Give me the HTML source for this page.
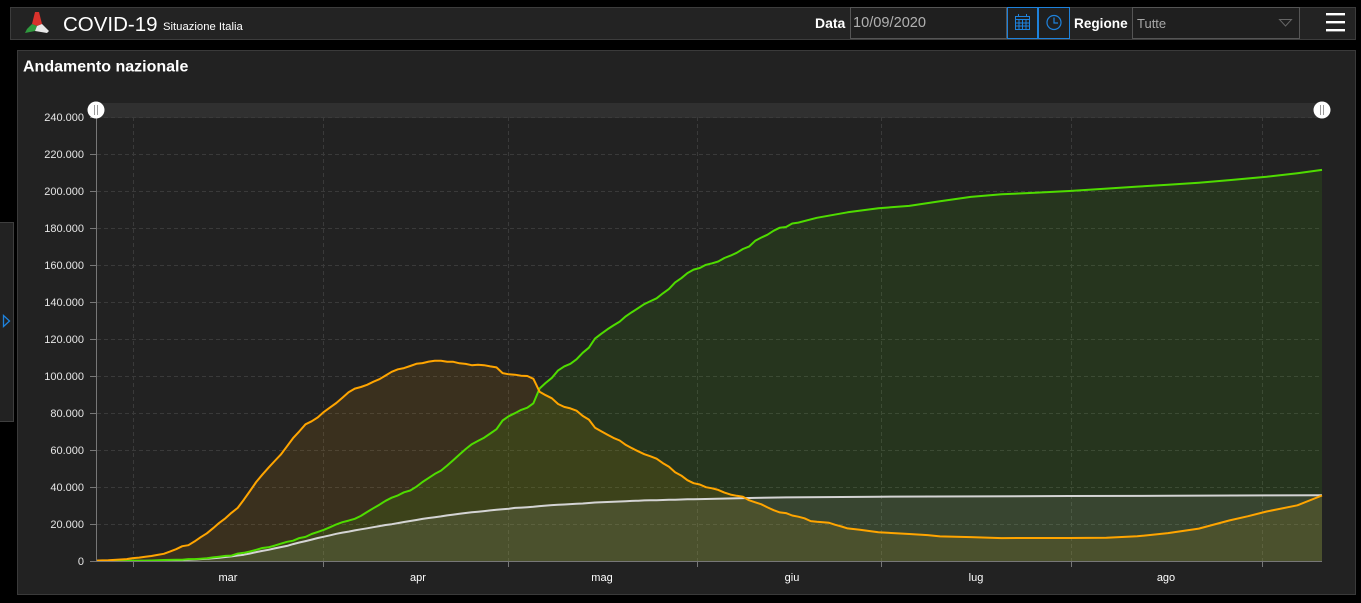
<!DOCTYPE html>
<html>
<head>
<meta charset="utf-8">
<style>
html,body{margin:0;padding:0;background:#000;width:1361px;height:603px;overflow:hidden;font-family:"Liberation Sans",sans-serif;}
.abs{position:absolute;}
#hdr{left:10px;top:7px;width:1344px;height:31px;background:#232323;border:1px solid #3c3c3c;}
#panel{left:17px;top:50px;width:1337px;height:543px;background:#222;border:1px solid #3a3a3a;}
#tab{left:-1px;top:222px;width:13px;height:198px;background:#222;border:1px solid #3e3e3e;}
</style>
</head>
<body>
<div id="hdr" class="abs"></div>
<div id="panel" class="abs"></div>
<div id="tab" class="abs"></div>

<!-- header content -->
<svg class="abs" style="left:0;top:0" width="1361" height="45">
  <!-- logo -->
  <g transform="translate(37,23)">
    <path d="M-2,-11 L2,-11 L5,1 L0,3 L-5,1 Z" fill="#d9322c"/>
    <path d="M-5,1 L0,3 L-2,8 L-12,10 L-10,6 Z" fill="#2f9a3e"/>
    <path d="M5,1 L0,3 L-2,8 L10,10 L12,8 Z" fill="#e8e8e8"/>
  </g>
  <text x="63" y="31" font-size="20.5" fill="#fff" font-family="Liberation Sans, sans-serif">COVID-19</text>
  <text x="163" y="30" font-size="11.3" fill="#fff" font-family="Liberation Sans, sans-serif">Situazione Italia</text>

  <text x="815" y="28" font-size="14" font-weight="bold" fill="#fff" font-family="Liberation Sans, sans-serif">Data</text>
  <rect x="850.5" y="7.5" width="156" height="31" fill="#1f1f1f" stroke="#555"/>
  <text x="853" y="27" font-size="14.6" fill="#b0b0b0" font-family="Liberation Sans, sans-serif">10/09/2020</text>

  <rect x="1007.5" y="7.5" width="30" height="31" fill="#1f1f1f" stroke="#1e82dc"/>
  <g stroke="#1e82dc" fill="none" stroke-width="1">
    <rect x="1015.5" y="16.5" width="14" height="13"/>
    <line x1="1015.5" y1="19.5" x2="1029.5" y2="19.5"/>
    <line x1="1015.5" y1="23" x2="1029.5" y2="23"/>
    <line x1="1015.5" y1="26" x2="1029.5" y2="26"/>
    <line x1="1019" y1="19.5" x2="1019" y2="29.5"/>
    <line x1="1022.5" y1="19.5" x2="1022.5" y2="29.5"/>
    <line x1="1026" y1="19.5" x2="1026" y2="29.5"/>
    <line x1="1018.5" y1="14" x2="1018.5" y2="17"/>
    <line x1="1026.5" y1="14" x2="1026.5" y2="17"/>
  </g>
  <rect x="1038.5" y="7.5" width="31" height="31" fill="#1f1f1f" stroke="#1e82dc"/>
  <g stroke="#1e82dc" fill="none" stroke-width="1.2">
    <circle cx="1054" cy="22.5" r="7"/>
    <polyline points="1054,17.5 1054,23 1058,23"/>
  </g>

  <text x="1074" y="28" font-size="13.6" font-weight="bold" fill="#fff" font-family="Liberation Sans, sans-serif">Regione</text>
  <rect x="1132.5" y="7.5" width="167" height="31" fill="#1f1f1f" stroke="#555"/>
  <text x="1137" y="28" font-size="13" fill="#a8a8a8" font-family="Liberation Sans, sans-serif">Tutte</text>
  <polygon points="1279.5,19.5 1291.5,19.5 1285.5,26" fill="none" stroke="#666" stroke-width="1"/>

  <g fill="#fff">
    <rect x="1326" y="13" width="19" height="2.4"/>
    <rect x="1326" y="21" width="19" height="2.4"/>
    <rect x="1326" y="29" width="19" height="2.4"/>
  </g>
</svg>

<!-- tab triangle -->
<svg class="abs" style="left:0;top:300px" width="14" height="40">
  <polygon points="3.5,15.5 9.5,21 3.5,26.5" fill="none" stroke="#1e82dc" stroke-width="1.3"/>
</svg>

<!-- chart -->
<svg class="abs" style="left:0;top:0" width="1361" height="603" font-family="Liberation Sans, sans-serif">
  <text x="23" y="71.5" font-size="16" font-weight="bold" fill="#fff">Andamento nazionale</text>

  <!-- scrollbar band -->
  <rect x="96" y="103" width="1226" height="15" fill="#303030"/>

  <g id="grid" stroke="#3a3a3a" stroke-width="1" stroke-dasharray="4,3"></g>
  <g id="ylabels" font-size="11" fill="#e6e6e6" text-anchor="end"></g>

  <path id="fOr" fill="rgba(255,165,0,0.11)"/>
  <path id="fGr" fill="rgba(76,230,0,0.10)"/>
  <path id="fWh" fill="rgba(220,220,220,0.10)"/>

  <path id="lWh" fill="none" stroke="#d4d4d4" stroke-width="2" stroke-linejoin="round"/>
  <path id="lGr" fill="none" stroke="#4fdc00" stroke-width="2" stroke-linejoin="round"/>
  <path id="lOr" fill="none" stroke="#ffa500" stroke-width="2" stroke-linejoin="round"/>

  <!-- axes -->
  <line x1="96.5" y1="117" x2="96.5" y2="561" stroke="#777" stroke-width="1"/>
  <line x1="96" y1="561.5" x2="1322" y2="561.5" stroke="#777" stroke-width="1"/>
  <g id="xticks" stroke="#777" stroke-width="1"></g>

  <g font-size="11" fill="#fff" text-anchor="middle">
    <text x="228" y="581">mar</text>
    <text x="418" y="581">apr</text>
    <text x="602" y="581">mag</text>
    <text x="792" y="581">giu</text>
    <text x="976" y="581">lug</text>
    <text x="1166" y="581">ago</text>
  </g>

  <!-- handles -->
  <circle cx="96" cy="110" r="8.5" fill="#fff"/>
  <line x1="94.5" y1="105" x2="94.5" y2="115" stroke="#999" stroke-width="1"/>
  <line x1="97.5" y1="105" x2="97.5" y2="115" stroke="#999" stroke-width="1"/>
  <circle cx="1322" cy="110" r="8.5" fill="#fff"/>
  <line x1="1320.5" y1="105" x2="1320.5" y2="115" stroke="#999" stroke-width="1"/>
  <line x1="1323.5" y1="105" x2="1323.5" y2="115" stroke="#999" stroke-width="1"/>
</svg>

<script>
(function(){
var NS="http://www.w3.org/2000/svg";
function X(d){return 96+d*(1226/199);}
function Y(v){return 561-v*444/240000;}
var grid=document.getElementById('grid');
var yl=document.getElementById('ylabels');
for(var i=0;i<=12;i++){
  var y=561-i*37;
  if(i>0){
    var l=document.createElementNS(NS,'line');
    l.setAttribute('x1',97);l.setAttribute('x2',1322);
    l.setAttribute('y1',y+0.5);l.setAttribute('y2',y+0.5);
    grid.appendChild(l);
  }
  var t=document.createElementNS(NS,'line');
  t.setAttribute('x1',90);t.setAttribute('x2',96);t.setAttribute('y1',y+0.5);t.setAttribute('y2',y+0.5);
  t.setAttribute('stroke','#777');t.setAttribute('stroke-dasharray','none');
  yl.appendChild(t);
  var tx=document.createElementNS(NS,'text');
  tx.setAttribute('x',84);tx.setAttribute('y',y+4);
  var v=i*20000;
  tx.textContent = v===0?'0':(v/1000)+'.000';
  yl.appendChild(tx);
}
var xs=[133,323,508,697,881,1071,1262];
var xt=document.getElementById('xticks');
xs.forEach(function(x){
  var l=document.createElementNS(NS,'line');
  l.setAttribute('x1',x+0.5);l.setAttribute('x2',x+0.5);l.setAttribute('y1',117);l.setAttribute('y2',561);
  grid.appendChild(l);
  var t=document.createElementNS(NS,'line');
  t.setAttribute('x1',x+0.5);t.setAttribute('x2',x+0.5);t.setAttribute('y1',561);t.setAttribute('y2',567);
  xt.appendChild(t);
});

var posD=[221,311,385,588,821,1049,
1577,1835,2263,2706,3296,3916,5061,6387,7985,8514,10590,12839,14955,17750,20603,23073,26062,28710,33190,37860,42681,46638,50418,54030,57521,62013,66414,70065,73880,75528,77635,
80572,83049,85388,88274,91246,93187,94067,95262,96877,98273,100269,102253,103616,104291,105418,106607,106962,107771,108257,108237,107709,107699,106848,106527,105847,106103,105813,105205,104657,101551,
100943,100704,100179,99980,98467,91528,89624,87961,84842,83324,82488,81266,78457,76440,72070,70187,68351,66553,65129,62752,60960,59322,57752,56594,55300,52942,50966,47986,46175,43691,42075];
var posK=[[98,41367],[99,39893],[100,39297],[101,38429],[102,36976],[103,35877],[104,35262],[105,34730],[106,32872],[107,31710],[108,30637],[109,28997],[110,27485],[111,26274],[112,25909],[113,24569],[114,23925],[115,23101],[116,21543],[117,21212],[118,20972],[119,20637],[120,19573],[121,18655],[122,17638],[124,16900],[127,15563],[132,14621],[135,14000],[137,13303],[142,12919],[147,12368],[152,12422],[158,12456],[164,12616],[169,13368],[174,15089],[179,17503],[184,21932],[187,24200],[190,26754],[195,30099],[199,35400]];

var grD=[1,1,3,45,46,50,
83,149,160,276,414,523,589,622,724,1004,1045,1258,1439,1966,2335,2749,2941,4025,4440,5129,6072,7024,7432,8326,9362,10361,10950,12384,13030,14620,15729,
16847,18278,19758,20996,21815,22837,24392,26491,28470,30455,32534,34211,35435,37130,38092,40164,42727,44927,47055,48877,51600,54543,57576,60498,63120,64928,66624,68941,71252,75945,
78249,79914,81654,82879,85231,93245,96276,99023,103031,105186,106587,109039,112541,115288,120205,122810,125176,127326,129401,132282,134560,136720,138840,140479,141981,144658,147101,150604,152844,155633,157507];
var grK=[[98,158355],[99,160092],[100,160938],[101,161895],[102,163781],[103,165078],[104,166584],[105,168646],[106,169939],[107,173085],[108,174865],[109,176370],[110,178526],[111,180152],[112,180544],[113,182453],[114,182893],[117,185500],[122,188500],[127,190717],[132,191944],[137,194500],[142,196806],[147,198200],[152,199000],[158,199974],[164,201300],[169,202400],[174,203326],[179,204500],[184,205900],[190,207653],[195,209600],[199,211400]];

var deD=[7,10,12,17,21,29,
34,52,79,107,148,197,233,366,463,631,827,1016,1266,1441,1809,2158,2503,2978,3405,4032,4825,5476,6077,6820,7503,8165,9134,10023,10779,11591,12428,
13155,13915,14681,15362,15887,16523,17127,17669,18279,18849,19468,19899,20465,21067,21645,22170,22745,23227,23660,24114,24648,25085,25549,25969,26384,26644,26977,27359,27682,27967,
28236,28710,28884,29079,29315,29684,29958,30201,30395,30560,30739,30911,31106,31368,31610,31763,31908,32007,32169,32330,32486,32616,32735,32785,32877,32955,33072,33142,33229,33340,33415];
var deK=[[98,33475],[107,34114],[112,34371],[127,34767],[158,35141],[174,35234],[190,35483],[199,35587]];

function pts(daily,keys){return daily.map(function(v,i){return [i,v];}).concat(keys);}
function line(p){return p.map(function(q,i){return (i?'L':'M')+X(q[0]).toFixed(1)+','+Y(q[1]).toFixed(1);}).join(' ');}
function area(p){var last=p[p.length-1];return line(p)+' L'+X(last[0]).toFixed(1)+',561 L'+X(p[0][0]).toFixed(1)+',561 Z';}
var P=pts(posD,posK),G=pts(grD,grK),D=pts(deD,deK);
document.getElementById('fOr').setAttribute('d',area(P));
document.getElementById('fGr').setAttribute('d',area(G));
document.getElementById('fWh').setAttribute('d',area(D));
document.getElementById('lOr').setAttribute('d',line(P));
document.getElementById('lGr').setAttribute('d',line(G));
document.getElementById('lWh').setAttribute('d',line(D));
})();
</script>
</body>
</html>
